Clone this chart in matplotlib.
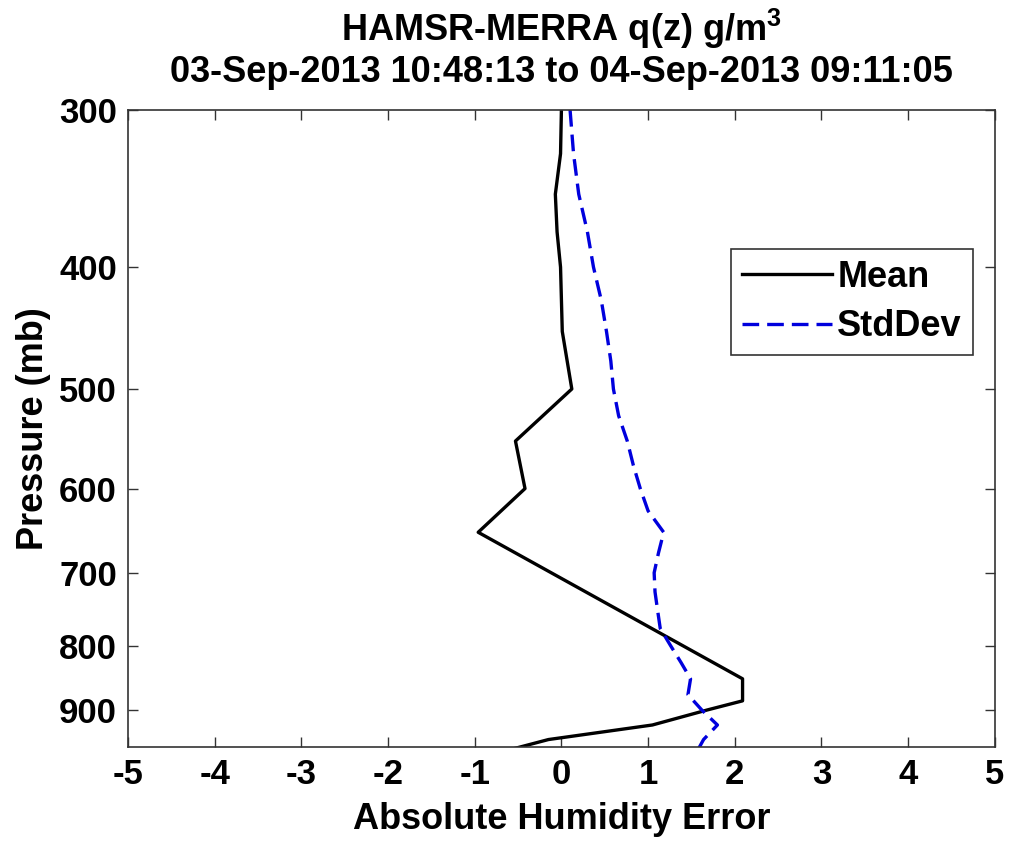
import numpy as np
import matplotlib
matplotlib.use('Agg')
import matplotlib.pyplot as plt
from matplotlib.ticker import FixedLocator, NullLocator, FixedFormatter

plt.rcParams['font.family'] = ['Liberation Sans', 'DejaVu Sans']
plt.rcParams['font.weight'] = 'bold'
plt.rcParams['mathtext.fontset'] = 'custom'
plt.rcParams['mathtext.rm'] = 'Liberation Sans'
plt.rcParams['mathtext.bf'] = 'Liberation Sans:bold'

# Mean error profile
p_mean = [300, 325, 350, 375, 400, 450, 500, 550, 600, 650, 850, 885, 900, 925, 950, 975]
mean_err = [0.0, -0.01, -0.07, -0.05, -0.01, 0.01, 0.12, -0.53, -0.42, -0.96,
            2.09, 2.09, 1.68, 1.05, -0.15, -0.77]

# Std dev profile
p_std = [300, 325, 350, 375, 400, 425, 450, 475, 500, 525, 550, 575, 600, 625,
         650, 675, 700, 725, 750, 775, 800, 825, 850, 875, 900, 925, 950, 975]
std_err = [0.10, 0.14, 0.20, 0.30, 0.37, 0.46, 0.52, 0.57, 0.60, 0.66, 0.76, 0.83,
           0.91, 1.00, 1.18, 1.12, 1.07, 1.08, 1.11, 1.14, 1.26, 1.38, 1.49, 1.46,
           1.62, 1.80, 1.64, 1.55]

yticks = [300, 400, 500, 600, 700, 800, 900]
xticks = [-5, -4, -3, -2, -1, 0, 1, 2, 3, 4, 5]

fig = plt.figure(figsize=(10.12, 8.41), dpi=100)
ax = fig.add_axes([0.1265, 0.1118, 0.8565, 0.7574])

ax.plot(mean_err, p_mean, color='black', lw=2.4, label='Mean')
ax.plot(std_err, p_std, color='#0000dd', lw=2.4, ls=(0, (5, 2.4)), label='StdDev')

ax.set_yscale('log')
ax.set_ylim(963, 300)
ax.set_xlim(-5, 5)
ax.yaxis.set_major_locator(FixedLocator(yticks))
ax.yaxis.set_major_formatter(FixedFormatter([str(t) for t in yticks]))
ax.yaxis.set_minor_locator(NullLocator())
ax.set_xticks(xticks)
ax.set_xticklabels([str(t) for t in xticks])

ax.tick_params(direction='in', length=7, width=1, top=True, right=True,
               labelsize=25, pad=8, color='#333333')
for s in ax.spines.values():
    s.set_linewidth(1.2)
    s.set_color('#333333')

ax.set_xlabel('Absolute Humidity Error', fontsize=26, fontweight='bold', labelpad=8)
ax.set_ylabel('Pressure (mb)', fontsize=26, fontweight='bold', labelpad=6)
ax.set_title('HAMSR-MERRA q(z) g/m$^\\mathbf{3}$\n03-Sep-2013 10:48:13 to 04-Sep-2013 09:11:05',
             fontsize=26, fontweight='bold', pad=20, linespacing=1.15)

leg = ax.legend(loc='upper right', bbox_to_anchor=(0.9746, 0.782), fontsize=26,
                frameon=True, fancybox=False, handlelength=2.5, handletextpad=0.15,
                borderpad=0.3, labelspacing=0.4, borderaxespad=0)
leg.get_frame().set_edgecolor('black')
leg.get_frame().set_linewidth(1.2)
for t in leg.get_texts():
    t.set_fontweight('bold')

fig.savefig('out.png', dpi=100)
